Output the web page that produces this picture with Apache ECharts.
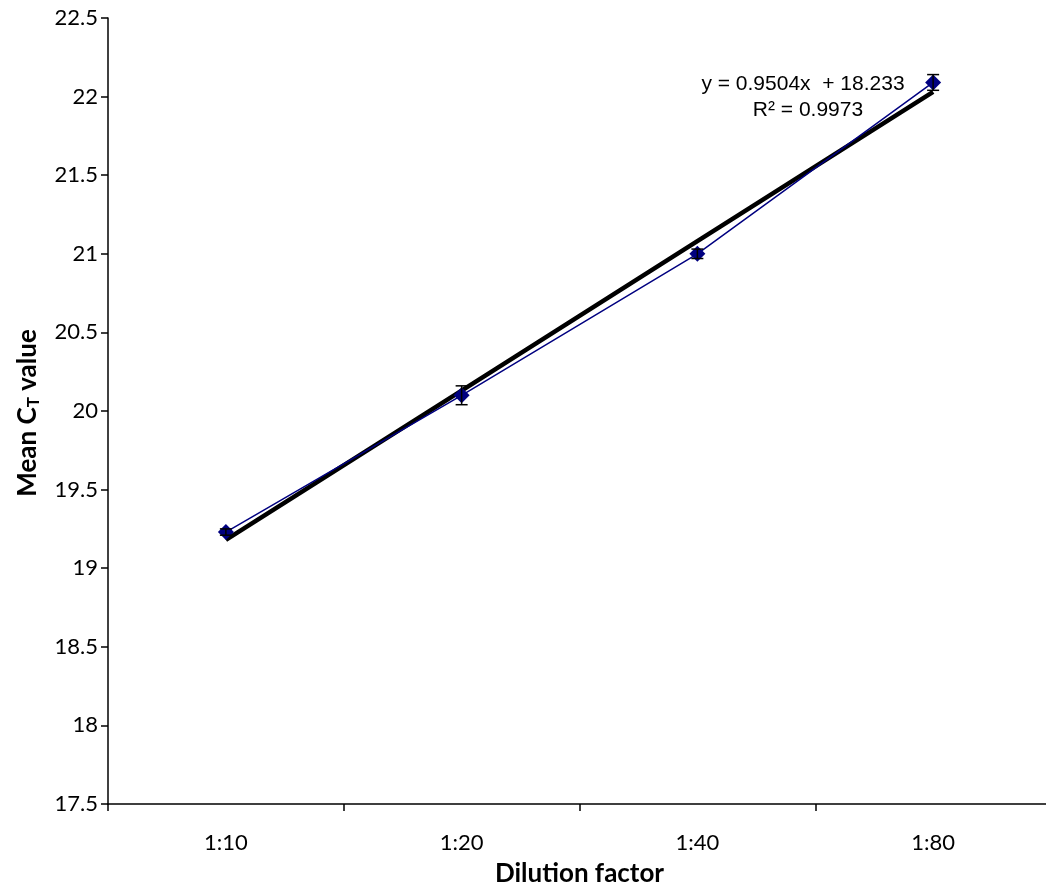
<!DOCTYPE html>
<html>
<head>
<meta charset="utf-8">
<script src="https://cdn.jsdelivr.net/npm/echarts@6/dist/echarts.min.js"></script>
<style>
html,body{margin:0;padding:0;background:#fff;overflow:hidden;width:1046px;height:892px;}
#chart{width:1051px;height:892px;}
</style>
</head>
<body>
<div id="chart"></div>
<script>
const categories = ['1:10', '1:20', '1:40', '1:80'];
const meanCt = [19.23, 20.10, 21.00, 22.09];
const errors = [0.02, 0.06, 0.03, 0.05];
const trendValues = [19.18, 20.13, 21.08, 22.03];
const yTicks = [17.5, 18, 18.5, 19, 19.5, 20, 20.5, 21, 21.5, 22, 22.5];
const equationText = 'y = 0.9504x  + 18.233';
const r2Text = 'R² = 0.9973';

const chart = echarts.init(document.getElementById('chart'), null, {renderer: 'canvas', width: 1051, height: 892});
const labelFont = 'Lato, "Open Sans", sans-serif';

const option = {
  animation: false,
  backgroundColor: '#fff',
  grid: {left: 108, top: 18, width: 943, height: 786, containLabel: false, outerBoundsMode: 'none'},
  xAxis: {
    type: 'category',
    data: categories,
    boundaryGap: true,
    axisLine: {show: true, lineStyle: {color: '#000', width: 1.5}},
    axisTick: {show: true, length: 7, lineStyle: {color: '#000', width: 1.5}, alignWithLabel: false},
    axisLabel: {color: '#000', fontSize: 22, fontFamily: labelFont, margin: 28},
    splitLine: {show: false},
    name: 'Dilution factor',
    nameLocation: 'middle',
    nameGap: 57,
    nameTextStyle: {color: '#000', fontSize: 26, fontWeight: 'bold', fontFamily: labelFont}
  },
  yAxis: {
    type: 'value',
    min: 17.5,
    max: 22.5,
    interval: 0.5,
    axisLine: {show: true, lineStyle: {color: '#000', width: 1.5}},
    axisTick: {show: true, length: 7, lineStyle: {color: '#000', width: 1.5}},
    axisLabel: {color: '#000', fontSize: 22, fontFamily: labelFont, margin: 10,
      formatter: v => String(yTicks.find(t => Math.abs(t - v) < 1e-9) ?? v)},
    splitLine: {show: false}
  },
  series: [
    {
      type: 'line',
      data: trendValues,
      symbol: 'none',
      lineStyle: {color: '#000', width: 4.5},
      z: 2
    },
    {
      type: 'line',
      data: meanCt,
      symbol: 'diamond',
      symbolSize: 16,
      itemStyle: {color: '#000080'},
      lineStyle: {color: '#000080', width: 1.5},
      z: 4
    },
    {
      type: 'custom',
      z: 5,
      data: meanCt.map((v, i) => [i, v - errors[i], v + errors[i]]),
      renderItem: function (params, api) {
        const x = api.coord([api.value(0), 0])[0];
        const lo = api.coord([api.value(0), api.value(1)])[1];
        const hi = api.coord([api.value(0), api.value(2)])[1];
        const w = 6;
        const style = {stroke: '#000', lineWidth: 1.5};
        return {
          type: 'group',
          children: [
            {type: 'line', shape: {x1: x, y1: lo, x2: x, y2: hi}, style},
            {type: 'line', shape: {x1: x - w, y1: lo, x2: x + w, y2: lo}, style},
            {type: 'line', shape: {x1: x - w, y1: hi, x2: x + w, y2: hi}, style}
          ]
        };
      }
    }
  ],
  graphic: [
    {
      type: 'text',
      x: 803, y: 84,
      style: {text: equationText, fill: '#000', fontSize: 21, align: 'center', verticalAlign: 'middle',
        fontFamily: 'Liberation Sans, Arial, sans-serif'}
    },
    {
      type: 'text',
      x: 808, y: 110,
      style: {text: r2Text, fill: '#000', fontSize: 21, align: 'center', verticalAlign: 'middle',
        fontFamily: 'Liberation Sans, Arial, sans-serif'}
    },
    {
      type: 'text',
      x: 28, y: 413,
      rotation: Math.PI / 2,
      style: {
        text: '{a|Mean C}{b|T}{a| value}',
        align: 'center',
        verticalAlign: 'middle',
        rich: {
          a: {fontSize: 26, fontWeight: 'bold', fontFamily: labelFont, color: '#000'},
          b: {fontSize: 17, fontWeight: 'bold', fontFamily: labelFont, color: '#000', padding: [12, 0, 0, 0]}
        }
      }
    }
  ]
};
chart.setOption(option);
</script>
</body>
</html>
